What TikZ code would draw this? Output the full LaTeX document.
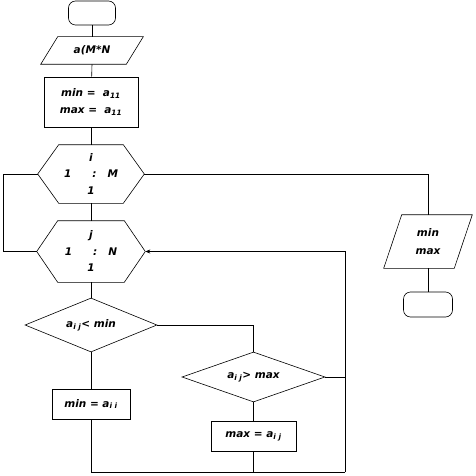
\documentclass[tikz,border=0pt]{standalone}
\usepackage{fontspec}
\setmainfont{DejaVu Sans}
\usetikzlibrary{shapes.geometric,arrows.meta,calc}
\tikzset{
  lbl/.style={font=\bfseries\itshape\fontsize{10.5}{12.5}\selectfont, align=center, inner sep=0pt},
  term/.style={draw, rounded corners=7pt, fill=white},
  proc/.style={draw, fill=white, lbl},
  dec/.style={draw, diamond, fill=white, lbl, inner sep=0pt},
  box/.style={lbl},
  ln/.style={line width=0.6pt, draw=black},
  outl/.style={draw=black, line width=0.6pt, fill=white},
}
\newcommand{\sub}[1]{\textsubscript{#1}}
\begin{document}
\begin{tikzpicture}[x=1pt,y=-1pt, line width=0.6pt]
\useasboundingbox (0,0) rectangle (475,476);
% nodes
\node[term, minimum width=47pt, minimum height=24pt] (start) at (92,13) {};
\node[box, minimum width=85pt, minimum height=27pt] (in) at (92,50.5) {};
\node[proc, minimum width=94pt, minimum height=50pt] (init) at (91,102) {min =\ \ a\sub{11}\\[4pt]max =\ \ a\sub{11}};
\node[box, minimum width=106pt, minimum height=58pt] (li) at (91,174) {};
\node[box, minimum width=108pt, minimum height=61pt] (lj) at (91,251.5) {};
\node[dec, minimum width=132pt, minimum height=54pt, aspect=2.44] (d1) at (91,325) {a\sub{i j}< min};
\node[proc, minimum width=78pt, minimum height=30pt] (smin) at (91,404) {min = a\sub{i i}};
\node[dec, minimum width=143pt, minimum height=50pt, aspect=2.86] (d2) at (253.5,377) {a\sub{i j}> max};
\node[proc, minimum width=85pt, minimum height=30pt] (smax) at (253.5,436) {max = a\sub{i j}};
\node[box, minimum width=70pt, minimum height=53pt] (out) at (428,241.5) {};
\node[term, minimum width=49pt, minimum height=25pt] (end) at (428,304.5) {};
\coordinate (R) at (345,472);
% outlines
\path[outl] ($(in.south west)+(-8.5,0)$) -- ($(in.south east)+(-8.5,0)$) -- ($(in.north east)+(8.5,0)$) -- ($(in.north west)+(8.5,0)$) -- cycle;
\path[outl] ($(out.south west)+(-9,0)$) -- ($(out.south east)+(-9,0)$) -- ($(out.north east)+(9,0)$) -- ($(out.north west)+(9,0)$) -- cycle;
\path[outl] (li.west) -- ($(li.north west)+(21,0)$) -- ($(li.north east)+(-21,0)$) -- (li.east) -- ($(li.south east)+(-21,0)$) -- ($(li.south west)+(21,0)$) -- cycle;
\path[outl] (lj.west) -- ($(lj.north west)+(21,0)$) -- ($(lj.north east)+(-21,0)$) -- (lj.east) -- ($(lj.south east)+(-21,0)$) -- ($(lj.south west)+(21,0)$) -- cycle;
% texts of the drawn shapes
\node[box] (inT) at (in) {a(M*N};
\node[box] (liT) at (li) {i\\[4pt]1\qquad:\ \ \ M\\[4pt]1};
\node[box] (ljT) at (lj) {j\\[4pt]1\qquad:\ \ \ N\\[4pt]1};
\node[box] (outT) at (out) {min\\[5pt]max};
% connectors
\draw[ln] (start) -- (in.north);
\draw[ln] (in.south) -- (init);
\draw[ln] (init) -- (li.north);
\draw[ln] (li.south) -- (lj.north);
\draw[ln] (lj.south) -- (d1);
\draw[ln] (d1) -- (smin);
\draw[ln] (li.west) -- (3,174) |- (lj.west);
\draw[ln] (li.east) -| (out.north);
\draw[ln] (out.south) -- (end);
\draw[ln] (d1.east) -| (d2.north);
\draw[ln] (d2) -- (smax);
\draw[ln] (d2.east) -- (d2.east -| R);
\draw[ln] (smin.south) |- (R);
\draw[ln] (smax.south) -- (smax.south |- R);
\draw[ln, -{Stealth[length=5pt,width=4pt]}] (R) -- (345,251.5) -- (lj.east);
\end{tikzpicture}
\end{document}
